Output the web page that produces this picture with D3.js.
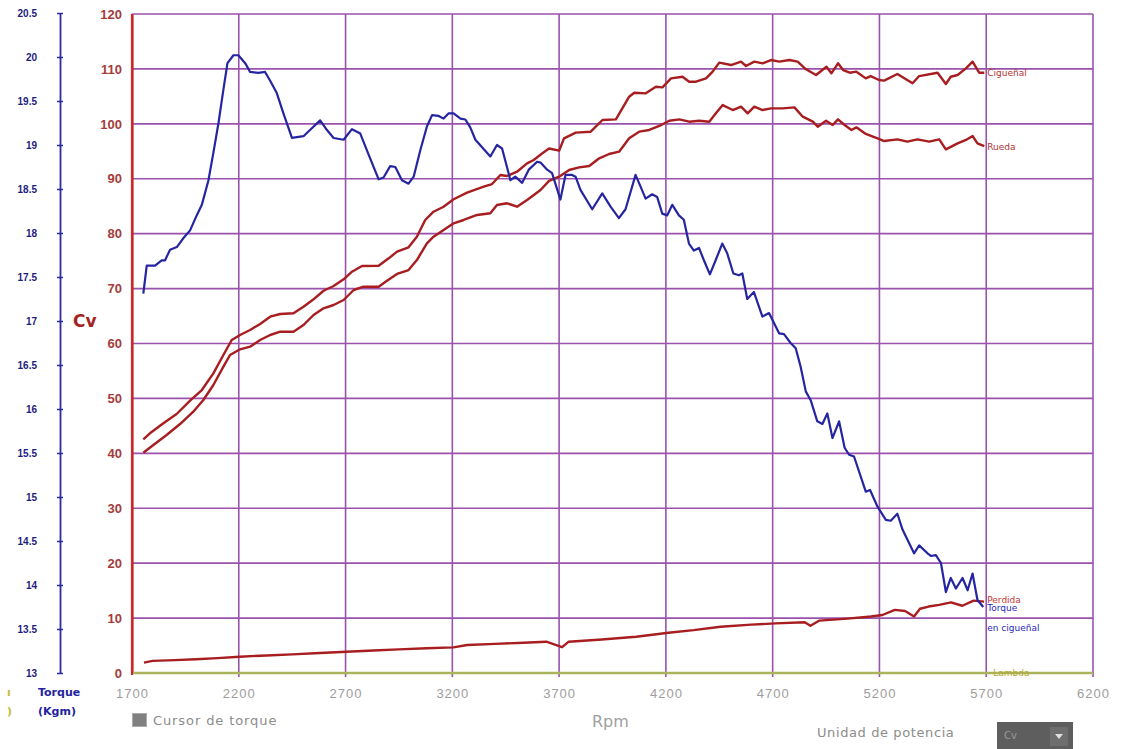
<!DOCTYPE html>
<html>
<head>
<meta charset="utf-8">
<script src="https://cdn.jsdelivr.net/npm/d3@7"></script>
<style>
  html, body { margin: 0; padding: 0; background: #fff; }
  svg { display: block; font-family: "DejaVu Sans", Verdana, sans-serif; }
</style>
</head>
<body>
<svg id="chart" width="1128" height="749"></svg>
<script>
// ---- Axis ticks ----
const rpmTicks = [1700, 2200, 2700, 3200, 3700, 4200, 4700, 5200, 5700, 6200];
const cvTicks = [0, 10, 20, 30, 40, 50, 60, 70, 80, 90, 100, 110, 120];
const torqueTicks = [13, 13.5, 14, 14.5, 15, 15.5, 16, 16.5, 17, 17.5, 18, 18.5, 19, 19.5, 20, 20.5];

// ---- Torque at crankshaft (Kgm) ----
const torqueRpm = [1753,1769,1808,1839,1855,1878,1910,1940,1972,2003,2027,2058,2081,2105,2128,2147,2175,2198,2230,2253,2292,2323,2347,2378,2409,2449,2503,2542,2581,2613,2644,2691,2730,2769,2808,2855,2878,2909,2933,2964,2995,3019,3050,3081,3105,3136,3159,3183,3206,3238,3261,3284,3308,3378,3409,3433,3472,3495,3527,3558,3597,3613,3644,3667,3706,3730,3761,3777,3800,3855,3902,3941,3980,4011,4058,4081,4105,4136,4159,4183,4206,4230,4261,4284,4308,4331,4355,4378,4406,4433,4464,4487,4516,4542,4558,4581,4612,4652,4683,4730,4753,4784,4808,4831,4855,4878,4909,4933,4956,4980,5011,5037,5058,5081,5136,5156,5191,5230,5253,5284,5308,5362,5386,5425,5441,5464,5488,5511,5534,5558,5589,5613,5636,5659,5686];
const torqueKgm = [17.31,17.63,17.63,17.69,17.69,17.81,17.84,17.94,18.03,18.20,18.32,18.60,18.91,19.25,19.63,19.93,20.02,20.02,19.93,19.83,19.82,19.83,19.73,19.59,19.36,19.08,19.10,19.19,19.28,19.17,19.08,19.06,19.18,19.13,18.89,18.61,18.63,18.76,18.75,18.60,18.56,18.64,18.94,19.21,19.34,19.33,19.30,19.36,19.36,19.30,19.29,19.20,19.06,18.87,19.00,18.96,18.60,18.64,18.57,18.72,18.81,18.80,18.72,18.68,18.38,18.66,18.66,18.64,18.49,18.27,18.45,18.30,18.17,18.27,18.66,18.53,18.39,18.44,18.41,18.22,18.20,18.32,18.20,18.15,17.88,17.80,17.83,17.69,17.53,17.69,17.88,17.77,17.54,17.52,17.54,17.25,17.33,17.05,17.09,16.86,16.85,16.75,16.69,16.48,16.20,16.10,15.86,15.83,15.95,15.67,15.86,15.56,15.48,15.46,15.06,15.08,14.89,14.74,14.73,14.81,14.63,14.36,14.45,14.36,14.33,14.34,14.25,13.92,14.08,13.96,14.08,13.94,14.13,13.83,13.75];

// ---- Power at crankshaft (Cv) ----
const cigRpm = [1753,1784,1847,1909,1972,2027,2081,2128,2167,2206,2253,2300,2347,2394,2456,2503,2550,2597,2644,2691,2730,2777,2855,2902,2941,2995,3034,3073,3112,3159,3206,3269,3347,3386,3425,3456,3503,3550,3581,3620,3653,3700,3723,3778,3848,3903,3966,4028,4052,4106,4153,4184,4224,4278,4309,4341,4388,4419,4450,4505,4552,4575,4614,4653,4692,4731,4778,4817,4856,4903,4952,4975,5006,5030,5061,5092,5136,5159,5198,5222,5284,5355,5386,5472,5511,5534,5566,5605,5636,5667,5691];
const cigCv = [42.55,43.65,45.47,47.16,49.58,51.53,54.57,57.91,60.64,61.55,62.46,63.55,64.88,65.37,65.50,66.70,68.05,69.61,70.47,71.69,73.07,74.11,74.17,75.51,76.72,77.52,79.45,82.49,84.00,84.91,86.26,87.46,88.55,89.04,90.68,90.50,91.28,92.81,93.41,94.60,95.50,95.11,97.36,98.39,98.57,100.70,100.82,104.94,105.67,105.55,106.76,106.64,108.28,108.58,107.67,107.67,108.28,109.50,111.14,110.71,111.32,110.53,111.32,111.02,111.62,111.32,111.62,111.32,109.93,108.89,110.40,109.20,111.02,109.80,109.31,109.50,108.28,108.70,107.98,107.86,109.07,107.38,108.70,109.31,107.25,108.58,108.89,110.10,111.32,109.31,109.31];

// ---- Power at wheel (Cv) ----
const ruedaRpm = [1753,1800,1862,1925,1987,2034,2081,2128,2159,2206,2253,2300,2347,2394,2456,2503,2550,2597,2644,2691,2738,2784,2855,2894,2941,2995,3034,3081,3112,3159,3206,3253,3316,3378,3409,3456,3503,3550,3613,3653,3700,3747,3794,3841,3888,3934,3981,4028,4075,4122,4169,4216,4263,4309,4356,4403,4434,4466,4513,4552,4583,4614,4653,4692,4747,4802,4841,4888,4911,4950,4981,5006,5037,5069,5092,5136,5191,5222,5284,5331,5378,5433,5480,5511,5566,5605,5636,5659,5691];
const ruedaCv = [40.12,41.52,43.34,45.34,47.58,49.71,52.44,55.78,57.91,58.94,59.42,60.64,61.55,62.15,62.15,63.37,65.19,66.41,67.01,67.92,69.74,70.34,70.34,71.43,72.66,73.38,75.20,78.24,79.45,80.67,81.89,82.49,83.40,83.71,85.22,85.53,84.91,86.13,87.95,89.60,90.37,91.59,92.08,92.32,93.72,94.51,94.93,97.36,98.57,98.88,99.61,100.57,100.82,100.39,100.57,100.39,101.91,103.42,102.51,103.12,101.91,103.12,102.51,102.82,102.82,103.00,101.30,100.39,99.48,100.57,99.79,100.82,99.79,98.88,99.36,98.15,97.36,96.87,97.18,96.75,97.18,96.75,97.18,95.36,96.45,97.06,97.78,96.45,95.96];

// ---- Power loss (Cv) ----
const perdidaRpm = [1756,1796,1900,2000,2100,2204,2330,2450,2580,2704,2830,2950,3080,3205,3270,3400,3533,3640,3714,3745,3900,4061,4212,4330,4456,4600,4714,4850,4877,4917,5050,5160,5214,5272,5320,5362,5390,5430,5480,5535,5588,5641,5690];
const perdidaCv = [1.88,2.2,2.35,2.5,2.7,2.97,3.2,3.4,3.65,3.88,4.1,4.3,4.5,4.67,5.1,5.3,5.52,5.7,4.7,5.7,6.1,6.61,7.34,7.8,8.43,8.8,9.04,9.25,8.6,9.53,9.9,10.3,10.56,11.5,11.3,10.3,11.7,12.1,12.4,12.85,12.25,13.17,13.0];

// ---- Lambda trace (flat, at the base line) ----
const lambdaRpm = [1700, 6200];
const lambdaVal = [0, 0];

// ---- Scales ----
const svg = d3.select("#chart");
const x = d3.scaleLinear().domain([1700, 6200]).range([132, 1093]);
const yCv = d3.scaleLinear().domain([0, 120]).range([673, 14]);
const yT = d3.scaleLinear().domain([13, 20.5]).range([673, 13]);

const gridColor = "#9a52ad";
const redAxis = "#c8292b";
const redLine = "#a81d1f";
const blueLine = "#2525a2";
const olive = "#aab45a";

// ---- Grid ----
const grid = svg.append("g");
grid.selectAll("line.v")
  .data(rpmTicks.slice(1))
  .join("line")
  .attr("x1", d => x(d)).attr("x2", d => x(d))
  .attr("y1", yCv(120)).attr("y2", yCv(0) + 4)
  .attr("stroke", gridColor).attr("stroke-width", 1.6);
grid.selectAll("line.h")
  .data(cvTicks.slice(1))
  .join("line")
  .attr("x1", x(1700)).attr("x2", x(6200))
  .attr("y1", d => yCv(d)).attr("y2", d => yCv(d))
  .attr("stroke", gridColor).attr("stroke-width", 1.6);

// ---- X axis labels ----
const xAxis = svg.append("g")
  .attr("transform", `translate(0,${yCv(0)})`)
  .call(d3.axisBottom(x).tickValues(rpmTicks).tickSize(0).tickPadding(16).tickFormat(d3.format("d")));
xAxis.select(".domain").remove();
xAxis.selectAll("text")
  .attr("fill", "#9d9d9d")
  .style("font-size", "13px")
  .style("letter-spacing", "1px");

// ---- Cv axis ----
const cvAxis = svg.append("g")
  .attr("transform", `translate(${x(1700)},0)`)
  .call(d3.axisLeft(yCv).tickValues(cvTicks).tickSize(0).tickPadding(10));
cvAxis.select(".domain").attr("stroke", redAxis).attr("stroke-width", 2.2);
cvAxis.selectAll("text")
  .attr("fill", "#a53b3b")
  .style("font-size", "13px")
  .style("font-weight", "bold");

svg.append("text")
  .attr("x", 73).attr("y", 327)
  .attr("fill", "#a32222")
  .style("font-size", "17px").style("font-weight", "bold")
  .text("Cv");

// ---- Torque axis ----
const tAxis = svg.append("g")
  .attr("transform", "translate(60,0)")
  .call(d3.axisLeft(yT).tickValues(torqueTicks).tickSizeInner(3).tickSizeOuter(0).tickPadding(20).tickFormat(d => String(d)));
tAxis.select(".domain").attr("stroke", "#2a2aa6").attr("stroke-width", 1.8);
tAxis.selectAll(".tick line").attr("x1", 3).attr("stroke", "#2a2aa6").attr("stroke-width", 1.5);
tAxis.selectAll("text")
  .attr("fill", "#1d1d7e")
  .style("font-size", "10px")
  .style("font-weight", "bold");

svg.append("text").attr("x", 38).attr("y", 696)
  .attr("fill", "#2323a0").style("font-size", "11px").style("font-weight", "bold")
  .text("Torque");
svg.append("text").attr("x", 38).attr("y", 715)
  .attr("fill", "#2323a0").style("font-size", "11px").style("font-weight", "bold")
  .text("(Kgm)");
// Lambda axis marks at the far left edge
svg.append("text").attr("x", 7).attr("y", 696)
  .attr("fill", "#c4bb3c").style("font-size", "11px").style("font-weight", "bold")
  .text("ı");
svg.append("text").attr("x", 7).attr("y", 715)
  .attr("fill", "#c4bb3c").style("font-size", "11px").style("font-weight", "bold")
  .text(")");

// ---- Series ----
const lineCv = d3.line().x(d => x(d[0])).y(d => yCv(d[1]));
const lineT = d3.line().x(d => x(d[0])).y(d => yT(d[1]));

svg.append("path")
  .datum(d3.zip(lambdaRpm, lambdaVal))
  .attr("d", lineCv).attr("fill", "none")
  .attr("stroke", olive).attr("stroke-width", 2.6);

// Cv axis line drawn over the base
svg.append("line")
  .attr("x1", x(1700)).attr("x2", x(1700))
  .attr("y1", yCv(120)).attr("y2", yCv(0) + 2)
  .attr("stroke", redAxis).attr("stroke-width", 2.2);

[[perdidaRpm, perdidaCv], [ruedaRpm, ruedaCv], [cigRpm, cigCv]].forEach(([r, v]) => {
  svg.append("path")
    .datum(d3.zip(r, v))
    .attr("d", lineCv).attr("fill", "none")
    .attr("stroke", redLine).attr("stroke-width", 2.4)
    .attr("stroke-linejoin", "round");
});

svg.append("path")
  .datum(d3.zip(torqueRpm, torqueKgm))
  .attr("d", lineT).attr("fill", "none")
  .attr("stroke", blueLine).attr("stroke-width", 2.2)
  .attr("stroke-linejoin", "round");

// ---- Series names ----
const lx = x(5700) + 1;
const names = [
  { t: "Cigueñal", y: 76, c: "#b03434" },
  { t: "Rueda", y: 150, c: "#b03434" },
  { t: "Perdida", y: 603, c: "#c43434" },
  { t: "Torque", y: 611, c: "#2a2ab4" },
  { t: "en cigueñal", y: 631, c: "#2a2ab4" }
];
svg.selectAll("text.name")
  .data(names)
  .join("text")
  .attr("x", lx).attr("y", d => d.y)
  .attr("fill", d => d.c)
  .style("font-size", "9px")
  .text(d => d.t);
svg.append("text")
  .attr("x", lx + 6).attr("y", yCv(0) + 3)
  .attr("fill", "#b5a832").style("font-size", "9px")
  .text("Lambda");

// ---- Bottom controls ----
svg.append("text").attr("x", 592).attr("y", 727)
  .attr("fill", "#a0a0a0").style("font-size", "16px").text("Rpm");

svg.append("rect").attr("x", 132.5).attr("y", 713.5).attr("width", 14).attr("height", 13)
  .attr("fill", "#808080").attr("stroke", "#aaa");
svg.append("text").attr("x", 153).attr("y", 725)
  .attr("fill", "#8c8c8c").style("font-size", "13px").style("letter-spacing", "0.9px")
  .text("Cursor de torque");

svg.append("text").attr("x", 817).attr("y", 737)
  .attr("fill", "#8c8c8c").style("font-size", "13px").style("letter-spacing", "0.6px")
  .text("Unidad de potencia");
svg.append("rect").attr("x", 997).attr("y", 722).attr("width", 76).attr("height", 30)
  .attr("fill", "#5e5e5e");
svg.append("text").attr("x", 1004).attr("y", 739)
  .attr("fill", "#9a9a9a").style("font-size", "10px").text("Cv");
svg.append("rect").attr("x", 1050).attr("y", 727).attr("width", 18).attr("height", 19)
  .attr("fill", "#6e6e6e");
svg.append("path")
  .attr("d", "M1055,734 L1063,734 L1059,739 Z")
  .attr("fill", "#e0e0e0");
</script>
</body>
</html>
